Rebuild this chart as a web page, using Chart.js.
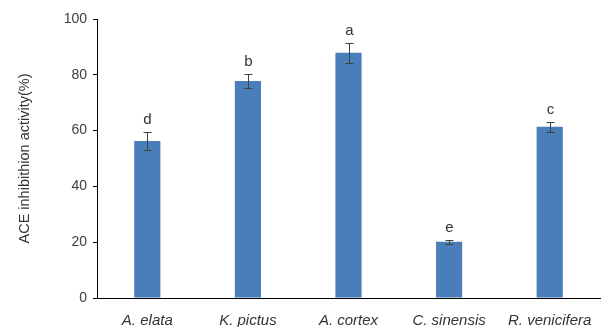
<!DOCTYPE html>
<html>
<head>
<meta charset="utf-8">
<script src="https://cdn.jsdelivr.net/npm/chart.js@4"></script>
<style>
  html, body { margin: 0; padding: 0; background: #fff; }
  #wrap { width: 602px; height: 327px; }
</style>
</head>
<body>
<div id="wrap"><canvas id="aceChart" width="602" height="327"></canvas></div>
<script>
const species = ['A. elata', 'K. pictus', 'A. cortex', 'C. sinensis', 'R. venicifera'];
const activity = [56.3, 77.8, 87.9, 20.2, 61.4];
const errors = [3.2, 2.5, 3.6, 0.7, 1.8];
const letters = ['d', 'b', 'a', 'e', 'c'];

// error bars + significance letters
const errorBarPlugin = {
    id: 'errorBars',
    afterDatasetsDraw(chart) {
        let ctx = chart.ctx;
        let x = chart.scales.x, y = chart.scales.y;
        ctx.save();
        ctx.strokeStyle = '#404040';
        ctx.lineWidth = 1;
        ctx.fillStyle = '#333';
        ctx.font = '15px "Liberation Sans", Arial, sans-serif';
        ctx.textAlign = 'center';
        ctx.textBaseline = 'bottom';
        activity.forEach((v, i) => {
            let cx = Math.round(x.getPixelForValue(i)) + 0.5;
            let top = Math.round(y.getPixelForValue(v + errors[i])) + 0.5;
            let bot = Math.round(y.getPixelForValue(v - errors[i])) + 0.5;
            ctx.beginPath();
            ctx.moveTo(cx, top); ctx.lineTo(cx, bot);
            ctx.moveTo(cx - 4, top); ctx.lineTo(cx + 4, top);
            ctx.moveTo(cx - 4, bot); ctx.lineTo(cx + 4, bot);
            ctx.stroke();
            ctx.fillText(letters[i], cx, top - 5);
        });
        ctx.restore();
    }
};

let ctx = document.getElementById('aceChart').getContext('2d');
let myChart = new Chart(ctx, {
    type: 'bar',
    data: {
        labels: species,
        datasets: [{
            data: activity,
            backgroundColor: '#4A7EBB',
            borderWidth: 0,
            categoryPercentage: 1,
            barPercentage: 0.26
        }]
    },
    options: {
        responsive: false,
        animation: false,
        layout: { padding: { top: 19, right: 2, left: 0, bottom: 0 } },
        plugins: { legend: { display: false }, tooltip: { enabled: false } },
        scales: {
            x: {
                grid: { display: false },
                border: { display: true, color: '#000', width: 1 },
                ticks: {
                    color: '#333',
                    padding: 6,
                    font: { family: '"Liberation Sans", Arial, sans-serif', size: 15, style: 'italic' }
                },
                afterFit: s => { s.height = 29; }
            },
            y: {
                min: 0,
                max: 100,
                grid: { display: true, drawOnChartArea: false, drawTicks: true, tickLength: 4, color: '#000' },
                border: { display: true, color: '#000', width: 1 },
                ticks: {
                    stepSize: 20,
                    color: '#404040',
                    padding: 6,
                    font: { family: '"Liberation Sans", Arial, sans-serif', size: 14 }
                },
                title: {
                    display: true,
                    text: 'ACE inhibithion activity(%)',
                    color: '#333',
                    padding: { top: 16, bottom: 0 },
                    font: { family: '"Liberation Sans", Arial, sans-serif', size: 14.5 }
                },
                afterFit: s => { s.width = 97; }
            }
        }
    },
    plugins: [errorBarPlugin]
});
</script>
</body>
</html>
